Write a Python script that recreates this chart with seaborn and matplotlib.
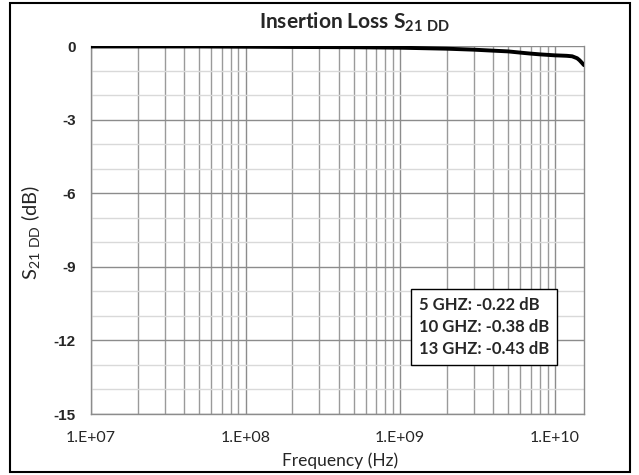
import numpy as np
import pandas as pd
import matplotlib
matplotlib.use("Agg")
import matplotlib.pyplot as plt
import seaborn as sns
from matplotlib.ticker import LogLocator, FixedLocator, NullFormatter
from matplotlib.patches import Rectangle

# data
freq_hz = [1e7, 2e7, 5e7, 1e8, 2e8, 5e8, 1e9, 2e9, 3e9, 4e9, 5e9, 6e9, 7e9,
           8e9, 1e10, 1.1e10, 1.2e10, 1.3e10, 1.4e10, 1.45e10, 1.5e10, 1.55e10]
s21_db = [-0.02, -0.02, -0.02, -0.03, -0.04, -0.05, -0.07, -0.11, -0.15, -0.19, -0.22, -0.27, -0.31,
          -0.34, -0.38, -0.39, -0.40, -0.42, -0.50, -0.58, -0.68, -0.78]
y_ticks = [0, -3, -6, -9, -12, -15]
x_ticks = [1e7, 1e8, 1e9, 1e10]
x_labels = ["1.E+07", "1.E+08", "1.E+09", "1.E+10"]
note_lines = ["5 GHZ: -0.22 dB", "10 GHZ: -0.38 dB", "13 GHZ: -0.43 dB"]

df = pd.DataFrame({"freq": freq_hz, "s21": s21_db})

sns.set_style("white")
plt.rcParams["font.family"] = ["Lato", "DejaVu Sans"]
plt.rcParams["axes.unicode_minus"] = False
plt.rcParams["mathtext.fontset"] = "custom"
plt.rcParams["mathtext.rm"] = "Lato"
plt.rcParams["mathtext.bf"] = "Lato:bold"

fig = plt.figure(figsize=(6.39, 4.75), dpi=100)
ax = fig.add_axes([91/639, 1-414/475, 493/639, 368/475])

sns.lineplot(data=df, x="freq", y="s21", ax=ax, color="black", linewidth=2.8, zorder=5)

ax.set_xscale("log")
ax.set_xlim(1e7, 1.55e10)
ax.set_ylim(-15, 0)

# grid like excel: gray verticals at every minor decade, light horizontals each dB
ax.xaxis.set_major_locator(FixedLocator(x_ticks))
ax.xaxis.set_minor_locator(LogLocator(base=10, subs=np.arange(2, 10)))
ax.xaxis.set_minor_formatter(NullFormatter())
ax.set_xticklabels(x_labels)
ax.yaxis.set_major_locator(FixedLocator(y_ticks))
ax.yaxis.set_minor_locator(FixedLocator([v for v in range(-15, 1) if v % 3 != 0]))
ax.grid(which="major", axis="both", color="#8c8c8c", linewidth=1.0)
ax.grid(which="minor", axis="x", color="#9a9a9a", linewidth=1.0)
ax.grid(which="minor", axis="y", color="#d9d9d9", linewidth=1.0)
ax.tick_params(which="both", length=0)
ax.tick_params(axis="y", pad=11, labelsize=11)
ax.tick_params(axis="x", pad=12, labelsize=11.5)
for lbl in ax.get_yticklabels():
    lbl.set_fontfamily("Liberation Sans")
    lbl.set_fontweight("bold")
for sp in ax.spines.values():
    sp.set_color("#8c8c8c")
    sp.set_linewidth(1.0)
ax.spines["top"].set_visible(False)

ax.set_xlabel("")
ax.set_ylabel("")
fig.text(340/639, 1-461/475, "Frequency (Hz)", ha="center", va="center", fontsize=12.5)
fig.text(31/639, 1-232/475, r"S$_{\mathrm{21\ DD}}$ (dB)", ha="center", va="center",
         rotation=90, fontsize=14.5)
fig.text(355/639, 1-22/475, r"Insertion Loss $\mathbf{S_{21\ DD}}$", ha="center", va="center",
         fontsize=15, fontweight="bold")

ax.text(0.665, 0.236, "\n".join(note_lines), transform=ax.transAxes, ha="left", va="center",
        fontsize=12, fontweight="bold", linespacing=1.45, zorder=6,
        bbox=dict(boxstyle="square,pad=0.5", facecolor="white", edgecolor="black", linewidth=1.0))

fig.patches.append(Rectangle((10/639, 3/475), 620/639, 469/475, transform=fig.transFigure,
                             fill=False, edgecolor="black", linewidth=1.5))

fig.savefig("out.png", dpi=100)
